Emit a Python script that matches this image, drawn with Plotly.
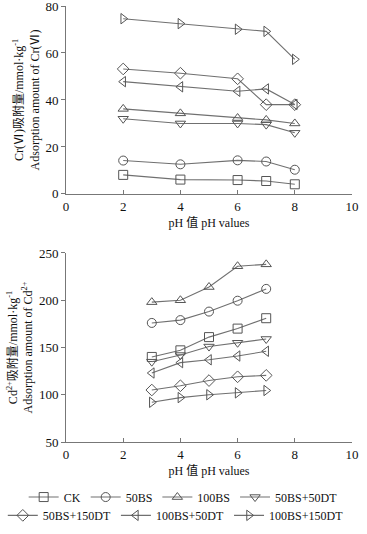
import plotly.graph_objects as go

# ---- data ----
series_names = ["CK", "50BS", "100BS", "50BS+50DT", "50BS+150DT", "100BS+50DT", "100BS+150DT"]
symbols = ["square-open", "circle-open", "triangle-up-open", "triangle-down-open",
           "diamond-open", "triangle-left-open", "triangle-right-open"]

ph_cr = [2, 4, 6, 7, 8]
cr_CK = [8.1, 6.1, 5.9, 5.5, 4.1]
cr_50BS = [14.2, 12.6, 14.3, 13.8, 10.3]
cr_100BS = [36.2, 34.3, 32.3, 31.5, 30.0]
cr_50BS_50DT = [32.0, 30.0, 30.0, 29.5, 26.0]
cr_50BS_150DT = [53.2, 51.4, 49.0, 38.0, 38.0]
cr_100BS_50DT = [47.8, 45.6, 43.7, 44.7, 38.1]
cr_100BS_150DT = [74.6, 72.5, 70.1, 69.2, 57.3]

ph_cd = [3, 4, 5, 6, 7]
cd_CK = [140, 147, 161, 170, 181]
cd_50BS = [176, 179, 188, 199.5, 212]
cd_100BS = [198, 200, 214, 236, 238]
cd_50BS_50DT = [135, 142, 151, 155, 159]
cd_50BS_150DT = [105, 109.5, 115, 119, 120.5]
cd_100BS_50DT = [123, 134, 137, 141, 146]
cd_100BS_150DT = [92, 97, 100, 102, 104.5]

cr_series = [cr_CK, cr_50BS, cr_100BS, cr_50BS_50DT, cr_50BS_150DT, cr_100BS_50DT, cr_100BS_150DT]
cd_series = [cd_CK, cd_50BS, cd_100BS, cd_50BS_50DT, cd_50BS_150DT, cd_100BS_50DT, cd_100BS_150DT]

x_ticks = [0, 2, 4, 6, 8, 10]
cr_ticks = [0, 20, 40, 60, 80]
cd_ticks = [50, 100, 150, 200, 250]

FONT = "Liberation Serif, Noto Sans CJK SC, serif"
LINE_C = "#707070"
MARK_C = "#555555"

fig = go.Figure()
for i, (name, sym) in enumerate(zip(series_names, symbols)):
    fig.add_trace(go.Scatter(
        x=ph_cr, y=cr_series[i], mode="lines+markers", name=name,
        line=dict(color=LINE_C, width=1.1),
        marker=dict(symbol=sym, size=9, color=MARK_C, line=dict(width=1, color=MARK_C)),
        xaxis="x", yaxis="y", showlegend=False, cliponaxis=False))
for i, (name, sym) in enumerate(zip(series_names, symbols)):
    fig.add_trace(go.Scatter(
        x=ph_cd, y=cd_series[i], mode="lines+markers", name=name,
        line=dict(color=LINE_C, width=1.1),
        marker=dict(symbol=sym, size=9, color=MARK_C, line=dict(width=1, color=MARK_C)),
        xaxis="x2", yaxis="y2", showlegend=True, cliponaxis=False,
        legend="legend" if i < 4 else "legend2"))

axis_common = dict(showline=True, linecolor="#777", linewidth=1, showgrid=False, zeroline=False,
                   tickfont=dict(family=FONT, size=13, color="#111"), mirror=False,
                   automargin=False, ticklabeloverflow="allow")

fig.update_layout(
    width=367, height=534,
    margin=dict(l=66, r=15, t=6, b=92, autoexpand=False),
    paper_bgcolor="white", plot_bgcolor="white",
    font=dict(family=FONT, size=12, color="#111"),
    xaxis=dict(domain=[0, 1], anchor="y", range=[0, 10], tickvals=x_ticks,
               ticks="inside", ticklen=4, tickcolor="#777",
               title=dict(text="pH 值 pH values", standoff=6, font=dict(size=12)), **axis_common),
    yaxis=dict(domain=[0.569, 1], anchor="x", range=[0, 80], tickvals=cr_ticks,
               ticks="outside", ticklen=4, tickcolor="#777",
               title=dict(text="Cr(Ⅵ)吸附量/mmol·kg<sup>-1</sup><br>Adsorption amount of Cr(Ⅵ)",
                          standoff=3, font=dict(size=12)), **axis_common),
    xaxis2=dict(domain=[0, 1], anchor="y2", range=[0, 10], tickvals=x_ticks,
                ticks="inside", ticklen=4, tickcolor="#777",
                title=dict(text="pH 值 pH values", standoff=6, font=dict(size=12)), **axis_common),
    yaxis2=dict(domain=[0, 0.4335], anchor="x2", range=[50, 250], tickvals=cd_ticks,
                ticks="outside", ticklen=4, tickcolor="#777",
                title=dict(text="Cd<sup>2+</sup>吸附量/mmol·kg<sup>-1</sup><br>Adsorption amount of Cd<sup>2+</sup>",
                           standoff=3, font=dict(size=12)), **axis_common),
    legend=dict(orientation="h", x=-0.148, xanchor="left", y=-0.093, yanchor="top",
                font=dict(family=FONT, size=12), itemwidth=30, tracegroupgap=0,
                bgcolor="rgba(0,0,0,0)"),
    legend2=dict(orientation="h", x=-0.221, xanchor="left", y=-0.135, yanchor="top",
                 font=dict(family=FONT, size=12), itemwidth=30, tracegroupgap=0,
                 bgcolor="rgba(0,0,0,0)"),
)

fig.write_html("out.html", config={"displayModeBar": False},
               post_script="document.body.style.margin='0';document.body.style.overflow='hidden';")
